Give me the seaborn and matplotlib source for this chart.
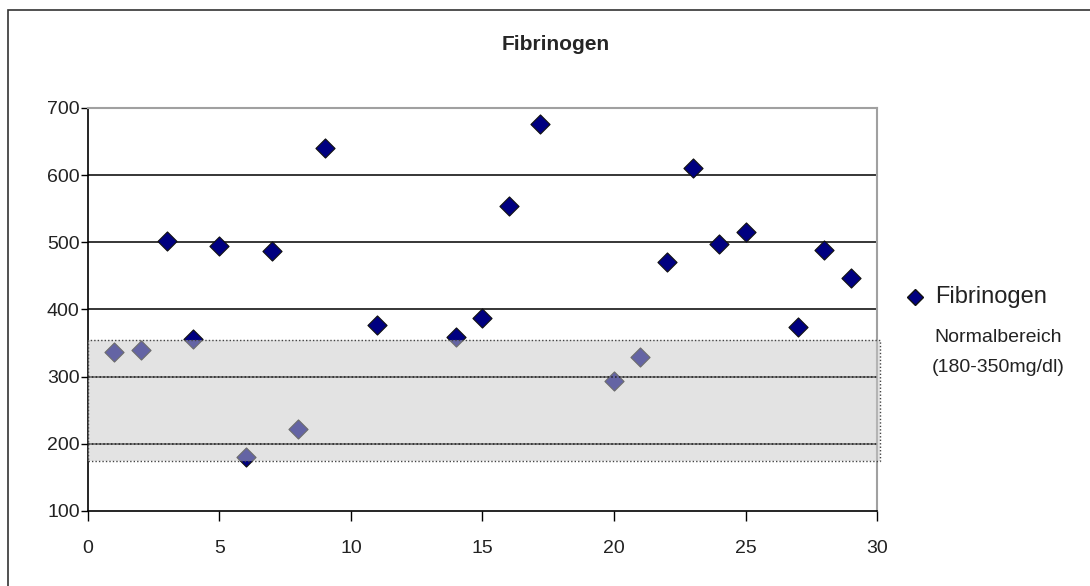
import matplotlib
matplotlib.use("Agg")
import matplotlib.pyplot as plt
from matplotlib.lines import Line2D
from matplotlib.patches import Rectangle
import pandas as pd
import seaborn as sns

# Messwerte (Probe-Nr. und Fibrinogen in mg/dl)
probe = [1, 2, 3, 4, 5, 6, 7, 8, 9, 11, 14, 15, 16, 17.2, 20, 21, 22, 23, 24, 25, 27, 28, 29]
fibrinogen = [336, 339, 502, 356, 494, 181, 487, 222, 640, 377, 359, 387, 554, 676,
              294, 330, 470, 610, 497, 515, 374, 488, 447]

# Normalbereich (wie im Diagramm gezeichnet)
band_x = [0, 30.1]
band_unten = 174
band_oben = 355

y_ticks = [100, 200, 300, 400, 500, 600, 700]
x_ticks = [0, 5, 10, 15, 20, 25, 30]

df = pd.DataFrame({"probe": probe, "fibrinogen": fibrinogen})

sns.set_style("white")
plt.rcParams["font.family"] = ["Liberation Sans", "DejaVu Sans"]

fig = plt.figure(figsize=(10.9, 5.86), dpi=100)
ax = fig.add_axes([0.0807, 0.128, 0.7239, 0.6877])

# Rahmen um das ganze Diagramm
fig.patches.append(Rectangle((8 / 1090, -0.05), 1.2, 1 - 10 / 586 + 0.05,
                             transform=fig.transFigure, fill=False,
                             edgecolor="#333333", linewidth=1.2))

sns.scatterplot(data=df, x="probe", y="fibrinogen", marker="D", s=95,
                color="#000080", edgecolor="#111111", linewidth=0.8,
                ax=ax, zorder=3, legend=False)

# Gitterlinien
for y in y_ticks[1:-1]:
    ax.axhline(y, color="black", linewidth=1.1, zorder=1)

# Normalbereich drüber legen
ax.fill_between(band_x, band_unten, band_oben, facecolor="#c8c8c8", alpha=0.5,
                edgecolor="none", zorder=4, clip_on=False)
ax.add_patch(Rectangle((band_x[0], band_unten), band_x[1] - band_x[0], band_oben - band_unten,
                       fill=False, edgecolor="#444444", linestyle=(0, (1, 1.5)),
                       linewidth=1, zorder=5, clip_on=False))
# Gitterlinien im Band wirken gepunktet
for y in [200, 300]:
    ax.plot(band_x[:1] + [30], [y, y], color="#222222", linewidth=1.1,
            linestyle=(0, (1, 1.5)), zorder=5)

ax.set_xlim(0, 30)
ax.set_ylim(100, 700)
ax.set_xticks(x_ticks)
ax.set_yticks(y_ticks)
ax.set_xlabel("")
ax.set_ylabel("")
ax.tick_params(axis="both", direction="out", width=1, color="black",
               labelsize=14, labelcolor="#222222")
ax.tick_params(axis="x", length=7, pad=14)
ax.tick_params(axis="y", length=5, pad=1)
ax.tick_params(left=True, bottom=True)

for s in ["left", "bottom"]:
    ax.spines[s].set_color("black")
    ax.spines[s].set_linewidth(1.2)
for s in ["top", "right"]:
    ax.spines[s].set_color("#a0a0a0")
    ax.spines[s].set_linewidth(1.5)

fig.text(556 / 1090, 1 - 45 / 586, "Fibrinogen", ha="center", va="center",
         fontsize=15, fontweight="bold")

# Legende
fig.lines.append(Line2D([915 / 1090], [1 - 297 / 586], marker="D", markersize=8,
                        color="#000080", markeredgecolor="#111111",
                        transform=fig.transFigure, linestyle="none"))
fig.text(935 / 1090, 1 - 297 / 586, "Fibrinogen", ha="left", va="center",
         fontsize=17, color="#222222")
fig.text(998 / 1090, 1 - 338 / 586, "Normalbereich", ha="center", va="center",
         fontsize=14, color="#222222")
fig.text(998 / 1090, 1 - 368 / 586, "(180-350mg/dl)", ha="center", va="center",
         fontsize=14, color="#222222")

fig.savefig("out.png", dpi=100)
